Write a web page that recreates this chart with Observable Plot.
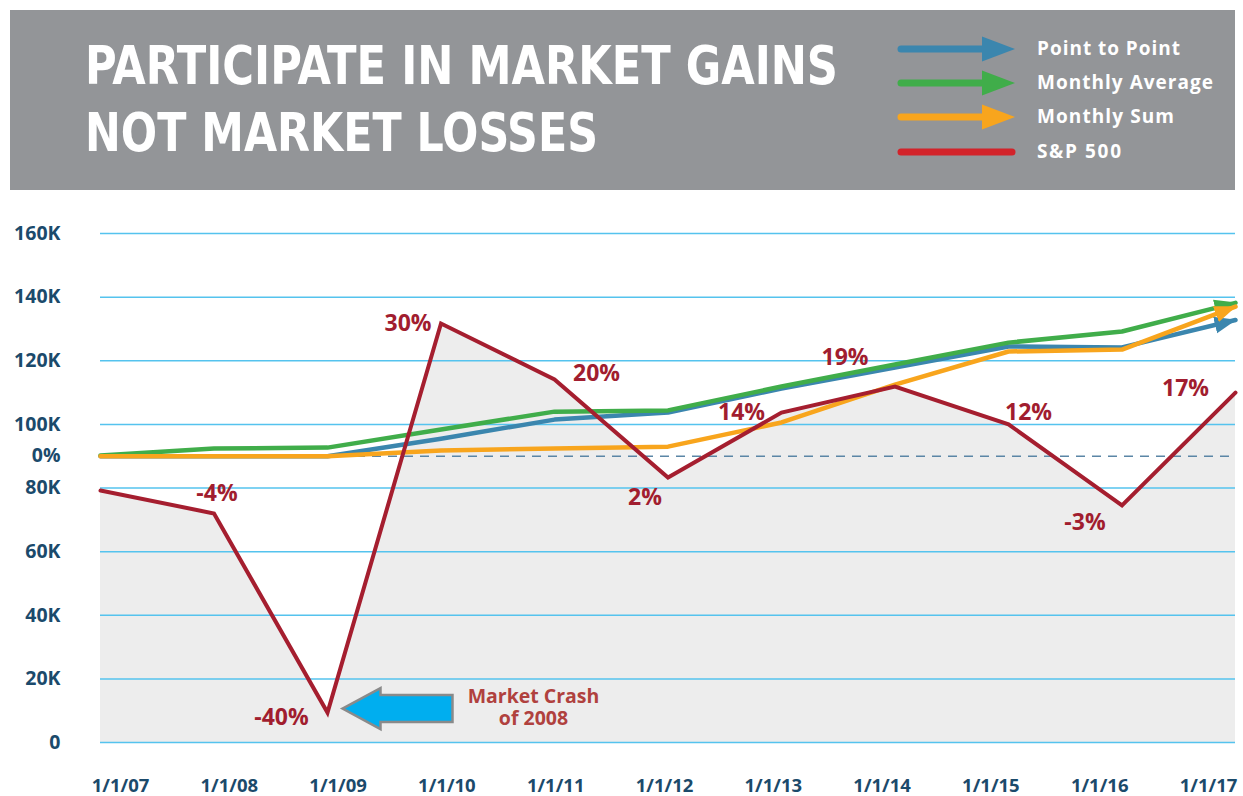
<!DOCTYPE html>
<html><head><meta charset="utf-8">
<script src="https://cdn.jsdelivr.net/npm/d3@7"></script>
<script src="https://cdn.jsdelivr.net/npm/@observablehq/plot@0.6"></script>
<style>
html,body{margin:0;padding:0;background:#fff;}
#root{width:1243px;height:796px;position:relative;overflow:hidden;}
#root svg{display:block;}
</style></head><body><div id="root"></div>
<script>
// ---- data ----
const years = ["1/1/07","1/1/08","1/1/09","1/1/10","1/1/11","1/1/12","1/1/13","1/1/14","1/1/15","1/1/16","1/1/17"];
const yearNum = [2007,2008,2009,2010,2011,2012,2013,2014,2015,2016,2017];
const sp500 = [79200,72000,9400,131700,114100,83300,103700,111900,100000,74500,110000];
const sp500Pct = ["","-4%","-40%","30%","20%","2%","14%","19%","12%","-3%","17%"];
const pointToPoint = [90000,90000,90000,95500,101500,103700,111300,117900,124500,124200,132800];
const monthlyAverage = [90200,92400,92700,98400,104000,104400,111900,118800,125700,129200,138200];
const monthlySum = [90000,90000,90000,91800,92400,93000,100600,112500,122900,123500,137000];
const yTicks = [0,20000,40000,60000,80000,90000,100000,120000,140000,160000];
const yTickLabels = ["0","20K","40K","60K","80K","0%","100K","120K","140K","160K"];
const gridTicks = [0,20000,40000,60000,80000,100000,120000,140000,160000];
const baseline = 90000;
const crashYear = 2009;
const crashNote = "Market Crash\nof 2008";
const titleLines = ["PARTICIPATE IN MARKET GAINS","NOT MARKET LOSSES"];
const legendLabels = ["Point to Point","Monthly Average","Monthly Sum","S&P 500"];

// ---- layout / style (not data) ----
const colors = {blue:"#3b86ae", green:"#40ad4a", orange:"#f8a51d", red:"#a51e2f", legendRed:"#d2232a"};
const labelOffsets = [[0,0],[3,-20],[-46,5],[-33,0],[42,-6],[-23,20],[-40,0],[-50,-29],[20,-12],[-37,17],[-50,-4]];
const boldFont = "'Open Sans', 'Noto Sans', sans-serif";
const axisColor = "#1b4a6b";

const root = d3.select("#root");

// ---- header ----
const head = root.append("svg").attr("width",1243).attr("height",190);
head.append("rect").attr("x",10).attr("y",10).attr("width",1225).attr("height",180).attr("fill","#939598");
const titleW = [753, 513], titleY = [84, 151];
titleLines.forEach((t,i)=>{
  head.append("text").text(t).attr("x",85).attr("y",titleY[i])
    .attr("fill","#fff").attr("font-family","'Liberation Sans Narrow','DejaVu Sans Condensed','Liberation Sans',sans-serif")
    .attr("font-weight","bold").attr("font-size",54)
    .attr("textLength",titleW[i]).attr("lengthAdjust","spacingAndGlyphs");
});
const legColors = [colors.blue, colors.green, colors.orange, colors.legendRed];
const legY = [49,83,117,152], legTextW = [143,176,137,84];
legendLabels.forEach((t,i)=>{
  const y = legY[i], c = legColors[i];
  head.append("line").attr("x1",901).attr("x2", i<3 ? 990 : 1012).attr("y1",y).attr("y2",y)
    .attr("stroke",c).attr("stroke-width",7).attr("stroke-linecap","round");
  if(i<3){
    head.append("path").attr("d",`M982,${y-12.5}L1015,${y}L982,${y+12.5}Z`).attr("fill",c);
  }
  head.append("text").text(t).attr("x",1037).attr("y",y+6)
    .attr("fill","#fff").attr("font-family",boldFont).attr("font-weight","bold").attr("font-size",19)
    .attr("textLength",legTextW[i]).attr("lengthAdjust","spacing");
});

// ---- main chart ----
const idx = d3.range(years.length);
const blockArrow = {draw(ctx){
  ctx.moveTo(0,0); ctx.lineTo(38,-20.5); ctx.lineTo(38,-13.5); ctx.lineTo(110,-13.5);
  ctx.lineTo(110,13.5); ctx.lineTo(38,13.5); ctx.lineTo(38,20.5); ctx.closePath();
}};
const crashIdx = yearNum.indexOf(crashYear);
const crashLines = crashNote.split("\n");

const main = Plot.plot({
  width:1243, height:560,
  marginLeft:100, marginRight:8, marginTop:43, marginBottom:8,
  x:{domain:[2007,2017], axis:null},
  y:{domain:[0,160000], ticks:yTicks, tickFormat:d=>yTickLabels[yTicks.indexOf(d)], tickSize:0, tickPadding:40, label:null},
  style:{fontFamily:boldFont, fontSize:"19.5px", fontWeight:"bold", color:axisColor, background:"transparent", overflow:"visible"},
  marks:[
    Plot.areaY(idx,{x:i=>yearNum[i], y:i=>sp500[i], fill:"#ededed"}),
    Plot.ruleY(gridTicks,{stroke:"#55c3ee", strokeWidth:1.5}),
    Plot.ruleY([baseline],{stroke:"#5b86a6", strokeWidth:1.5, strokeDasharray:"9,7"}),
    Plot.line(idx,{x:i=>yearNum[i], y:i=>pointToPoint[i], stroke:colors.blue, strokeWidth:4.5, strokeLinejoin:"round"}),
    Plot.line(idx,{x:i=>yearNum[i], y:i=>monthlyAverage[i], stroke:colors.green, strokeWidth:4.5, strokeLinejoin:"round"}),
    Plot.line(idx,{x:i=>yearNum[i], y:i=>monthlySum[i], stroke:colors.orange, strokeWidth:4.5, strokeLinejoin:"round"}),
    Plot.line(idx,{x:i=>yearNum[i], y:i=>sp500[i], stroke:colors.red, strokeWidth:4, strokeLinejoin:"miter", strokeMiterlimit:10}),
    ...idx.filter(i=>sp500Pct[i]).map(i=>Plot.text([i],{
      x:j=>yearNum[j], y:j=>sp500[j], text:j=>sp500Pct[j],
      dx:labelOffsets[i][0], dy:labelOffsets[i][1],
      fill:"#a11d2f", fontSize:23, fontWeight:"bold", fontFamily:boldFont
    })),
    Plot.dot([crashIdx],{x:j=>yearNum[j], y:j=>sp500[j], symbol:blockArrow, r:10,
      fill:"#00aeef", stroke:"#8a8a8a", strokeWidth:2.5, dx:15, dy:-4}),
    Plot.text([crashIdx],{x:j=>yearNum[j], y:j=>sp500[j], text:()=>crashLines[0], dx:206, dy:-15.5,
      fill:"#b0413e", fontSize:19.5, fontWeight:"bold", fontFamily:boldFont}),
    Plot.text([crashIdx],{x:j=>yearNum[j], y:j=>sp500[j], text:()=>crashLines[1], dx:206, dy:6.5,
      fill:"#b0413e", fontSize:19.5, fontWeight:"bold", fontFamily:boldFont})
  ]
});
root.node().appendChild(main);

// arrowheads on the three strategy lines
const defs = d3.select(main).insert("defs",":first-child");
const arrowCols = [["ah-blue",colors.blue],["ah-green",colors.green],["ah-orange",colors.orange]];
arrowCols.forEach(([id,c])=>{
  defs.append("marker").attr("id",id).attr("markerUnits","userSpaceOnUse")
    .attr("viewBox","0 -10 22 20").attr("markerWidth",22).attr("markerHeight",20)
    .attr("refX",21).attr("refY",0).attr("orient","auto")
    .append("path").attr("d","M0,-8.5L22,0L0,8.5Z").attr("fill",c);
});
const lineGroups = main.querySelectorAll('g[aria-label="line"]');
[0,1,2].forEach(k=>{
  const g = lineGroups[k]; if(!g) return;
  g.querySelectorAll("path").forEach(p=>p.setAttribute("marker-end",`url(#${arrowCols[k][0]})`));
});

// ---- x axis strip ----
const xaxis = Plot.plot({
  width:1243, height:46, marginLeft:120, marginRight:35, marginTop:12, marginBottom:34,
  x:{domain:[2007,2017], ticks:yearNum, tickFormat:d=>years[yearNum.indexOf(d)], tickSize:0, tickPadding:16, label:null},
  style:{fontFamily:boldFont, fontSize:"18.5px", fontWeight:"bold", color:axisColor, background:"transparent", overflow:"visible"},
  marks:[Plot.ruleX(yearNum,{strokeOpacity:0})]
});
root.node().appendChild(xaxis);
</script></body></html>
